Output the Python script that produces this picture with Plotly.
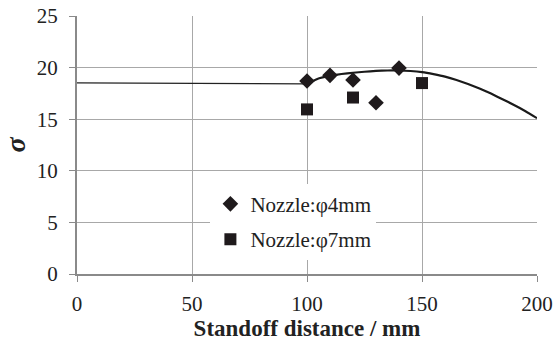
import plotly.graph_objects as go

# Data
d4_x = [100, 110, 120, 130, 140]
d4_y = [18.7, 19.25, 18.8, 16.6, 19.95]
d7_x = [100, 120, 150]
d7_y = [15.95, 17.1, 18.5]

fit_left_x = [0, 50, 100]
fit_left_y = [18.52, 18.46, 18.42]
fit_right_x = [100, 105, 110, 115, 120, 125, 130, 135, 140, 145, 150, 155, 160, 165, 170, 175, 180, 185, 190, 195, 200]
fit_right_y = [18.42, 18.95, 19.2, 19.38, 19.5, 19.6, 19.68, 19.72, 19.72, 19.67, 19.56, 19.36, 19.12, 18.8, 18.42, 17.98, 17.48, 16.94, 16.38, 15.77, 15.1]

x_ticks = [0, 50, 100, 150, 200]
y_ticks = [0, 5, 10, 15, 20, 25]

FONT = "Liberation Serif"
MARK = "#1f1a1c"

fig = go.Figure()
fig.add_trace(go.Scatter(x=fit_left_x, y=fit_left_y, mode="lines",
                         line=dict(color="#222", width=1.2), showlegend=False, hoverinfo="skip"))
fig.add_trace(go.Scatter(x=fit_right_x, y=fit_right_y, mode="lines",
                         line=dict(color="#1a1a1a", width=2.2, shape="spline", smoothing=0.3),
                         showlegend=False, hoverinfo="skip"))
fig.add_trace(go.Scatter(x=d4_x, y=d4_y, mode="markers", name="Nozzle:φ4mm", legendgroup="a",
                         marker=dict(symbol="diamond", size=12, color=MARK)))
fig.add_trace(go.Scatter(x=d7_x, y=d7_y, mode="markers", name="Nozzle:φ7mm", legendgroup="b",
                         marker=dict(symbol="square", size=12, color=MARK)))

axis_common = dict(
    showgrid=True, gridcolor="#a8a8a8", gridwidth=1,
    showline=True, linecolor="#8a8a8a", linewidth=2,
    ticks="outside", tickcolor="#8a8a8a", ticklen=6, tickwidth=1,
    zeroline=False, automargin=False,
    tickfont=dict(family=FONT, size=21, color="#222"),
)

fig.update_xaxes(range=[0, 200], tickvals=x_ticks, ticktext=[str(v) for v in x_ticks],
                 ticklabelstandoff=4,
                 title=dict(text="<b>Standoff distance / mm</b>", font=dict(family=FONT, size=23, color="#222"),
                            standoff=2),
                 **axis_common)
fig.update_yaxes(range=[0, 25], tickvals=y_ticks, ticktext=[str(v) for v in y_ticks],
                 ticklabelstandoff=7,
                 title=dict(text="<b><i>σ</i></b>", font=dict(family=FONT, size=28, color="#222"),
                            standoff=9),
                 **axis_common)

fig.update_layout(
    width=556, height=347,
    margin=dict(l=77, r=19, t=16, b=73),
    plot_bgcolor="white", paper_bgcolor="white",
    font=dict(family=FONT, color="#222"),
    showlegend=True,
    legend=dict(x=0.29, y=0.35, xanchor="left", yanchor="top",
                bgcolor="white", borderwidth=0,
                font=dict(family=FONT, size=21, color="#222"),
                itemwidth=30, tracegroupgap=5, traceorder="grouped"),
)

fig.write_html("out.html")
